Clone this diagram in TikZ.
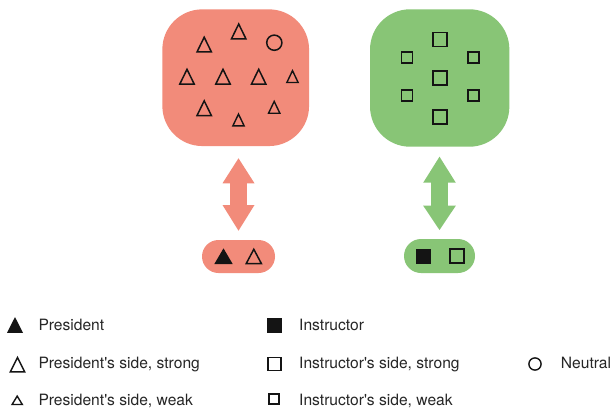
\documentclass[tikz,border=0pt]{standalone}
\usepackage{fontspec}
\newfontfamily\lgfont{TeX Gyre Heros}
\definecolor{salmon}{RGB}{242,139,122}
\definecolor{leaf}{RGB}{136,197,118}
\definecolor{ink}{RGB}{20,20,20}
% \tri[style]{cx}{cy}{w}{h} : apex-up triangle (y axis points down)
\newcommand{\tri}[5][]{\path[#1] (#2-#4/2,#3+#5/2) -- (#2+#4/2,#3+#5/2) -- (#2,#3-#5/2) -- cycle;}
\begin{document}
\begin{tikzpicture}[x=1pt,y=-1pt,
  blob/.style={inner sep=0pt, outer sep=0pt, rounded corners=40pt},
  pill/.style={inner sep=0pt, outer sep=0pt},
  tris/.style={draw=ink, line width=1.5pt, line join=miter},
  triw/.style={draw=ink, line width=1.4pt, line join=miter},
  trif/.style={fill=ink},
  sq/.style={draw=ink, line width=1.6pt, inner sep=0pt, outer sep=0pt, rectangle},
  sqf/.style={fill=ink, inner sep=0pt, outer sep=0pt, rectangle},
  circ/.style={draw=ink, line width=1.5pt, circle, inner sep=0pt, outer sep=0pt},
  lbl/.style={font=\lgfont\fontsize{15.6}{18}\selectfont, text=black!85, inner sep=0pt, anchor=base west}]
\useasboundingbox (0,0) rectangle (612,409);
\fill[white] (0,0) rectangle (612,409);

% blobs
\node[blob, fill=salmon, minimum width=146.7pt, minimum height=136.7pt] (redblob) at (235.7,77.7) {};
\node[blob, fill=leaf, minimum width=139.3pt, minimum height=137.4pt] (greenblob) at (439.7,78) {};

% pills
\node[pill, fill=salmon, minimum width=73pt, minimum height=33pt, rounded corners=16.5pt] (redpill) at (238.5,256.5) {};
\node[pill, fill=leaf, minimum width=71pt, minimum height=34pt, rounded corners=17pt] (greenpill) at (439.5,256) {};

% double arrows
\fill[salmon] (238.5,158.3) -- (254.5,183.3) -- (246.8,183.3) -- (246.8,205) -- (254.5,205)
  -- (238.5,230.7) -- (222.5,205) -- (230.2,205) -- (230.2,183.3) -- (222.5,183.3) -- cycle;
\fill[leaf] (439.5,156.7) -- (455.8,182.7) -- (447.8,182.7) -- (447.8,205.7) -- (455.8,205.7)
  -- (439.5,230) -- (423.2,205.7) -- (431.2,205.7) -- (431.2,182.7) -- (423.2,182.7) -- cycle;

% red blob members
\tri[tris]{204.2}{44.6}{14.4}{14.75}
\tri[tris]{238.7}{31.4}{14.4}{14.75}
\tri[tris]{187}{76.7}{14.4}{14.75}
\tri[tris]{223}{76.7}{14.4}{14.75}
\tri[tris]{258.7}{76.7}{14.4}{14.75}
\tri[tris]{204.2}{108.2}{14.4}{14.75}
\tri[triw]{292.5}{76.6}{11.3}{11.8}
\tri[triw]{238.5}{120}{11.3}{11.8}
\tri[triw]{274.2}{107.3}{11.3}{11.8}
\node[circ, minimum size=15.2pt] (neutral1) at (274.3,42.7) {};

% green blob members
\node[sq, minimum size=14pt] (s1) at (440,39.5) {};
\node[sq, minimum size=14pt] (s4) at (440,78) {};
\node[sq, minimum size=14pt] (s7) at (440,117) {};
\node[sq, minimum size=11pt] (s2) at (407,57.5) {};
\node[sq, minimum size=11pt] (s3) at (473.5,57.5) {};
\node[sq, minimum size=11pt] (s5) at (407,95.5) {};
\node[sq, minimum size=11pt] (s6) at (473.5,95.5) {};

% pill members
\tri[trif]{223.5}{256.2}{18.4}{15.7}
\tri[tris]{253.8}{256.4}{15.1}{14.2}
\node[sqf, minimum size=15pt] (instr1) at (423.5,256.5) {};
\node[sq, minimum size=14pt] (instr2) at (457,256) {};

% legend
\tri[trif]{15}{324.9}{16}{15.7}
\tri[tris]{17.5}{364.7}{14.4}{14.5}
\tri[triw]{17.2}{400.3}{10.2}{8.4}
\node[sqf, minimum size=15pt] (lg1) at (274.5,325.5) {};
\node[sq, minimum size=13pt] (lg2) at (274.5,364) {};
\node[sq, minimum size=10pt] (lg3) at (274,399) {};
\node[circ, line width=1.4pt, minimum size=12.2pt] (lg4) at (535,364) {};

\node[lbl] (t1) at (38.3,330.7) {President};
\node[lbl] (t2) at (38.3,368.3) {President's side, strong};
\node[lbl] (t3) at (38.3,405) {President's side, weak};
\node[lbl] (t4) at (299,330.7) {Instructor};
\node[lbl] (t5) at (299,368.3) {Instructor's side, strong};
\node[lbl] (t6) at (299,405) {Instructor's side, weak};
\node[lbl] (t7) at (560.7,368) {Neutral};
\end{tikzpicture}
\end{document}
